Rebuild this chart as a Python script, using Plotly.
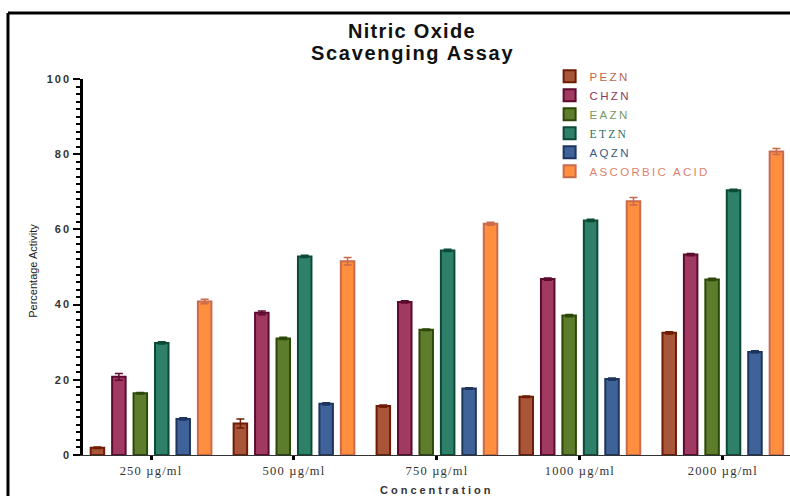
import plotly.graph_objects as go

categories = ["250 µg/ml", "500 µg/ml", "750 µg/ml", "1000 µg/ml", "2000 µg/ml"]
series_names = ["PEZN", "CHZN", "EAZN", "ETZN", "AQZN", "ASCORBIC ACID"]
pezn = [1.9, 8.4, 13.0, 15.5, 32.5]
chzn = [20.8, 37.8, 40.7, 46.8, 53.3]
eazn = [16.4, 31.0, 33.3, 37.1, 46.7]
etzn = [29.8, 52.8, 54.4, 62.4, 70.4]
aqzn = [9.6, 13.6, 17.7, 20.2, 27.4]
ascorbic = [40.8, 51.5, 61.5, 67.5, 80.7]
pezn_err = [0.2, 1.2, 0.3, 0.2, 0.3]
chzn_err = [0.9, 0.5, 0.3, 0.3, 0.3]
eazn_err = [0.2, 0.3, 0.2, 0.3, 0.3]
etzn_err = [0.3, 0.3, 0.3, 0.3, 0.3]
aqzn_err = [0.3, 0.3, 0.2, 0.3, 0.3]
ascorbic_err = [0.6, 1.0, 0.4, 1.0, 0.8]
y_ticks = [0, 20, 40, 60, 80, 100]
y_tick_labels = ["0", "20", "40", "60", "80", "100"]

values = [pezn, chzn, eazn, etzn, aqzn, ascorbic]
errors = [pezn_err, chzn_err, eazn_err, etzn_err, aqzn_err, ascorbic_err]
fills = ["#A8553A", "#A03A60", "#5E7D2C", "#2E8069", "#3F6399", "#FF8F3F"]
edges = ["#6E1C04", "#5C0A30", "#2C4808", "#0C4A38", "#1E3560", "#C86A4C"]
text_colors = ["#B8684A", "#8A3A5E", "#7A9660", "#2E6E5A", "#3C5A84", "#D8846A"]

fig = go.Figure()
for name, v, e, fc, ec, tc in zip(series_names, values, errors, fills, edges, text_colors):
    fam = "Liberation Serif" if name == "ETZN" else "Liberation Sans"
    label = f"<span style='color:{tc};font-family:{fam};letter-spacing:2.3px'>{name}</span>"
    fig.add_trace(go.Bar(
        x=categories, y=v, name=label,
        marker=dict(color=fc, line=dict(color=ec, width=2)),
        error_y=dict(type="data", array=e, visible=True, color=ec, thickness=1.5, width=4),
    ))

fig.update_layout(
    width=790, height=496,
    margin=dict(l=83, r=0, t=79, b=41),
    paper_bgcolor="white", plot_bgcolor="white",
    barmode="group", bargap=0.1, bargroupgap=0.37,
    showlegend=True,
    legend=dict(x=0.66, y=1.046, xanchor="left", yanchor="top",
                bgcolor="rgba(0,0,0,0)", font=dict(family="Liberation Sans", size=11.5),
                itemwidth=30, tracegroupgap=0),
    font=dict(family="Liberation Sans", color="#222"),
)
fig.update_xaxes(
    range=[-0.476, 4.47], showline=True, linecolor="#333", linewidth=1,
    tickvals=categories,
    ticktext=[f"<span style='letter-spacing:1.2px'>{c}</span>" for c in categories],
    ticks="outside", ticklen=4, tickwidth=2.5, tickcolor="black",
    tickfont=dict(family="Liberation Serif", size=12.5, color="#333"),
    showgrid=False, zeroline=False,
)
fig.update_yaxes(
    range=[0, 100], showline=True, linecolor="black", linewidth=2.5,
    tickvals=y_ticks,
    ticktext=[f"<b><span style='letter-spacing:2px'>{t}</span></b>" for t in y_tick_labels],
    ticks="outside", ticklen=7, tickwidth=1.5, tickcolor="black",
    tickfont=dict(family="Liberation Sans", size=11, color="#333"),
    minor=dict(dtick=2, ticks="outside", ticklen=4, tickwidth=1.5, tickcolor="black"),
    showgrid=False, zeroline=False,
)

title_font = dict(family="Liberation Sans", size=20, color="#111")
fig.add_annotation(text="<b><span style='letter-spacing:1.3px'>Nitric Oxide</span></b>",
                   x=0.4654, y=1.128, xref="paper", yref="paper", xanchor="center",
                   yanchor="middle", showarrow=False, font=title_font)
fig.add_annotation(text="<b><span style='letter-spacing:1.7px'>Scavenging Assay</span></b>",
                   x=0.4654, y=1.068, xref="paper", yref="paper", xanchor="center",
                   yanchor="middle", showarrow=False, font=title_font)
fig.add_annotation(text="<b><span style='letter-spacing:3px'>Concentration</span></b>",
                   x=0.5, y=-0.093, xref="paper", yref="paper",
                   xanchor="center", yanchor="middle", showarrow=False,
                   font=dict(family="Liberation Sans", size=11, color="#333"))
fig.add_annotation(text="Percentage Activity", x=-0.0707, y=0.49, xref="paper", yref="paper",
                   xanchor="center", yanchor="middle", showarrow=False, textangle=-90,
                   font=dict(family="Liberation Sans", size=11, color="#222"))

fig.add_shape(type="line", xref="paper", yref="paper", x0=-0.1061, x1=1.0, y0=1.1755, y1=1.1755,
              line=dict(color="black", width=3))
fig.add_shape(type="line", xref="paper", yref="paper", x0=-0.1061, x1=-0.1061, y0=1.1755, y1=-0.12,
              line=dict(color="black", width=3))

fig.write_html("out.html")
